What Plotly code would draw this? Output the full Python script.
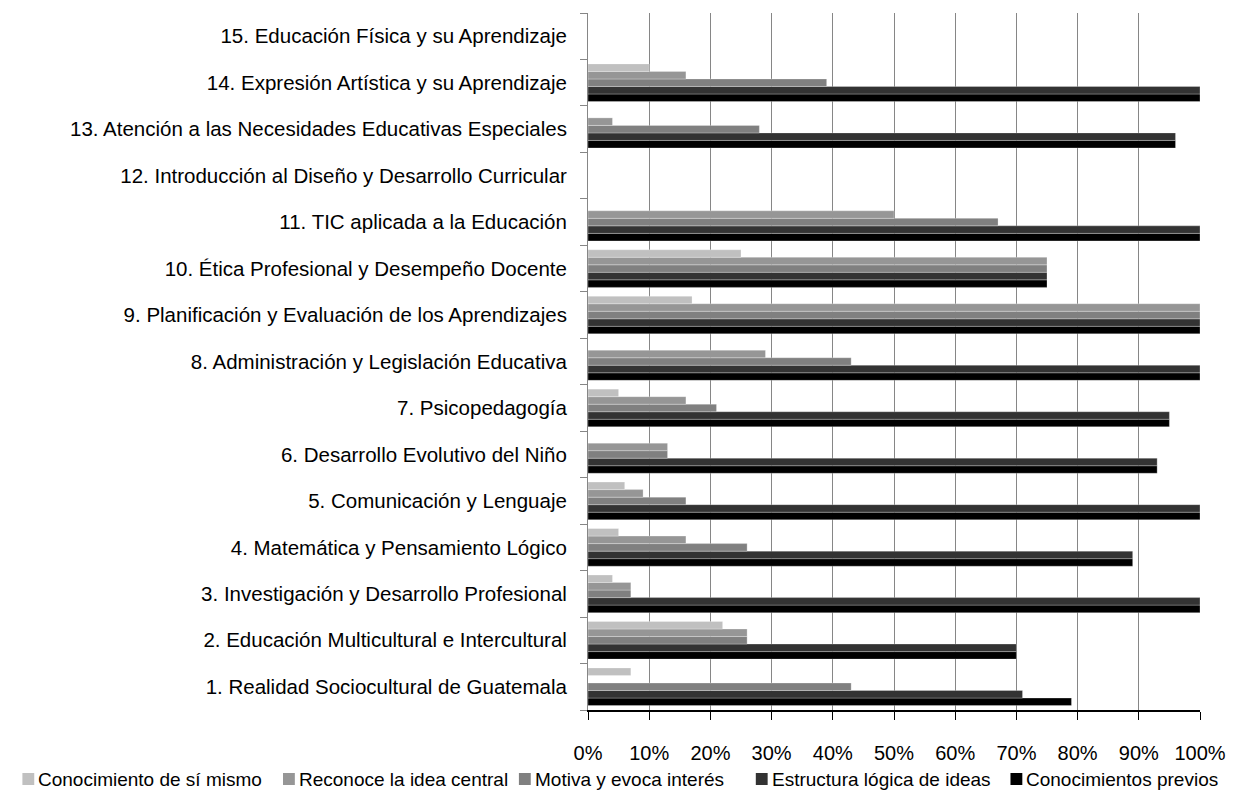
import plotly.graph_objects as go

categories = [
    "1. Realidad Sociocultural de Guatemala",
    "2. Educación Multicultural e Intercultural",
    "3. Investigación y Desarrollo Profesional",
    "4. Matemática y Pensamiento Lógico",
    "5. Comunicación y Lenguaje",
    "6. Desarrollo Evolutivo del Niño",
    "7. Psicopedagogía",
    "8. Administración y Legislación Educativa",
    "9. Planificación y Evaluación de los Aprendizajes",
    "10. Ética Profesional y Desempeño Docente",
    "11. TIC aplicada a la Educación",
    "12. Introducción al Diseño y Desarrollo Curricular",
    "13. Atención a las Necesidades Educativas Especiales",
    "14. Expresión Artística y su Aprendizaje",
    "15. Educación Física y su Aprendizaje",
]

conocimiento_si_mismo = [0.07, 0.22, 0.04, 0.05, 0.06, 0.00, 0.05, 0.00, 0.17, 0.25, 0.00, 0.0, 0.00, 0.10, 0.0]
reconoce_idea_central = [0.00, 0.26, 0.07, 0.16, 0.09, 0.13, 0.16, 0.29, 1.00, 0.75, 0.50, 0.0, 0.04, 0.16, 0.0]
motiva_evoca_interes  = [0.43, 0.26, 0.07, 0.26, 0.16, 0.13, 0.21, 0.43, 1.00, 0.75, 0.67, 0.0, 0.28, 0.39, 0.0]
estructura_logica     = [0.71, 0.70, 1.00, 0.89, 1.00, 0.93, 0.95, 1.00, 1.00, 0.75, 1.00, 0.0, 0.96, 1.00, 0.0]
conocimientos_previos = [0.79, 0.70, 1.00, 0.89, 1.00, 0.93, 0.95, 1.00, 1.00, 0.75, 1.00, 0.0, 0.96, 1.00, 0.0]

series_names = [
    "Conocimiento de sí mismo",
    "Reconoce la idea central",
    "Motiva y evoca interés",
    "Estructura lógica de ideas",
    "Conocimientos previos",
]
series_values = [conocimiento_si_mismo, reconoce_idea_central, motiva_evoca_interes,
                 estructura_logica, conocimientos_previos]
series_colors = ["#c0c0c0", "#969696", "#808080", "#333333", "#000000"]

x_ticks = [i / 10 for i in range(11)]
x_tick_labels = [f"{i * 10}%" for i in range(11)]

FONT = "Liberation Sans, Arial, sans-serif"
FS_Y = 20.5
FS = 20
FS_LEG = 19

# layout geometry (pixels)
W, H = 1238, 797
ML, MR, MT, MB = 588, 30, 13, 87
PW, PH = W - ML - MR, H - MT - MB

def px_x(px):
    return (px - ML) / PW

def px_y(py):
    return (H - MB - py) / PH

fig = go.Figure()
# add in reverse so the first series sits at the top of each group
for name, vals, col in reversed(list(zip(series_names, series_values, series_colors))):
    fig.add_trace(go.Bar(
        y=categories, x=vals, name=name, orientation="h",
        marker=dict(color=col, line=dict(width=0.6, color="rgba(255,255,255,0.45)")),
        showlegend=False,
    ))

# manual one-row legend, like the reference
legend_left = [15, 279, 518, 758, 1016]
legend_cy = 779
sq = 12
for name, col, lx in zip(series_names, series_colors, legend_left):
    fig.add_shape(type="rect", xref="paper", yref="paper",
                  x0=px_x(lx), x1=px_x(lx + sq),
                  y0=px_y(legend_cy + sq / 2), y1=px_y(legend_cy - sq / 2),
                  fillcolor=col, line=dict(width=0))
    fig.add_annotation(text=name, xref="paper", yref="paper",
                       x=px_x(lx + sq + 2), y=px_y(legend_cy),
                       xanchor="left", yanchor="middle", showarrow=False,
                       font=dict(family=FONT, size=FS_LEG, color="#000000"))

fig.update_layout(
    width=W, height=H,
    margin=dict(l=ML, r=MR, t=MT, b=MB),
    paper_bgcolor="white", plot_bgcolor="white",
    barmode="group", bargap=0.19, bargroupgap=0,
    font=dict(family=FONT, size=FS, color="#000000"),
    showlegend=False,
    xaxis=dict(
        range=[0, 1], tickvals=x_ticks, ticktext=x_tick_labels,
        tickfont=dict(family=FONT, size=FS, color="#000000"),
        showgrid=True, gridcolor="#868686", gridwidth=1,
        showline=True, linecolor="#000000", linewidth=1.5,
        ticks="outside", ticklen=8, tickcolor="#000000",
        ticklabelstandoff=16, zeroline=False, fixedrange=True,
    ),
    yaxis=dict(
        type="category", categoryorder="array", categoryarray=categories,
        tickfont=dict(family=FONT, size=FS_Y, color="#000000"),
        showline=True, linecolor="#868686", linewidth=1,
        ticks="outside", tickson="boundaries", ticklen=7, tickcolor="#868686",
        ticklabelstandoff=16, showgrid=False, zeroline=False, fixedrange=True,
    ),
)

fig.write_html("out.html")
